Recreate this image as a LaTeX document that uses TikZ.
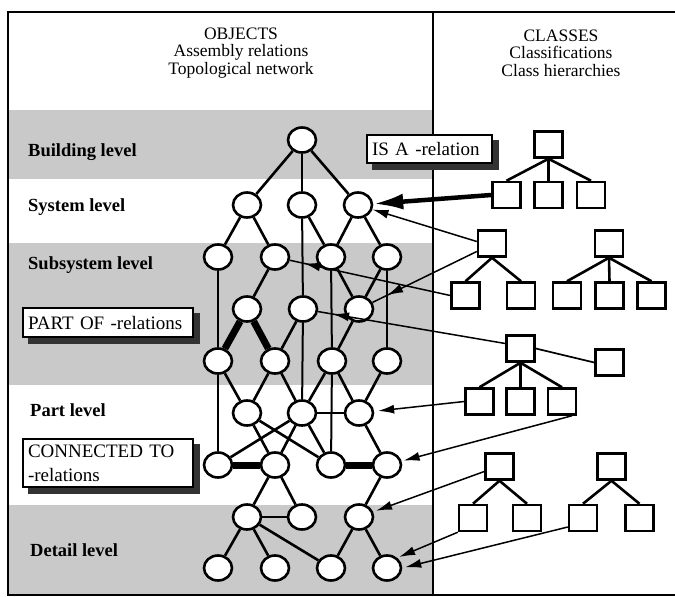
\documentclass[tikz,border=0pt]{standalone}
\usepackage{fontspec}
\setmainfont{Liberation Serif}
\usetikzlibrary{shapes.geometric,arrows.meta,decorations.markings,calc}

\begin{document}
\begin{tikzpicture}[x=1pt,y=-1pt,
  obj/.style={ellipse,draw,line width=2.6pt,fill=white,minimum width=28pt,minimum height=25pt,inner sep=0pt},
  cls/.style={rectangle,draw,line width=2.5pt,fill=white,minimum width=28pt,minimum height=26pt,inner sep=0pt},
  rel/.style={line width=2.6pt},
  vrel/.style={line width=2pt},
  strong/.style={line width=7pt},
  band/.style={fill=black!21,draw=none},
  frame/.style={line width=1.8pt},
  level/.style={anchor=west,inner sep=0pt,font=\fontsize{18.5}{20}\selectfont\bfseries},
  head/.style={align=center,inner sep=0pt,font=\fontsize{17.5}{17.5}\selectfont},
  tag/.style={draw,line width=1.4pt,fill=white,align=left,inner xsep=5pt,
    font=\fontsize{19}{24}\selectfont},
  shade/.style={fill=black!80,draw=none},
  isa/.style={line width=1.5pt,-{Latex[length=16pt,width=9pt]}},
  isastrong/.style={line width=4.5pt,-{Latex[length=30pt,width=16pt]}},
  midtip/.style={line width=1.5pt,postaction={decorate},
    decoration={markings,mark=at position #1 with {\arrow{Latex[length=16pt,width=9pt]}}}},
]
\useasboundingbox (0,0) rectangle (675,597);
\fill[white] (0,0) rectangle (675,597);

% shaded level bands of the object panel
\fill[band] (8,110) rectangle (433,179);
\fill[band] (8,243) rectangle (433,385);
\fill[band] (8,505) rectangle (433,595);

% frame and panel divider
\draw[frame] (675,12) -- (8,12) -- (8,595) -- (675,595);
\draw[frame] (433,12) -- (433,595);

% panel headings
\node[head] (objhead) at (241,53) {OBJECTS\\Assembly relations\\Topological network};
\node[head] (clshead) at (561,53) {CLASSES\\Classifications\\Class hierarchies};

% level names
\node[level] (lvB) at (28,152) {Building level};
\node[level] (lvS) at (28,207) {System level};
\node[level] (lvSub) at (28,265) {Subsystem level};
\node[level] (lvP) at (30,410) {Part level};
\node[level] (lvD) at (30,550) {Detail level};

% object network
\node[obj] (T)  at (302,140) {};
\node[obj] (S1) at (247,205) {};
\node[obj] (S2) at (302,205) {};
\node[obj] (S3) at (358,205) {};
\node[obj] (B1) at (218,257) {};
\node[obj] (B2) at (275,257) {};
\node[obj] (B3) at (331,257) {};
\node[obj] (B4) at (387,257) {};
\node[obj] (P1) at (247,309) {};
\node[obj] (P2) at (303,309) {};
\node[obj] (P3) at (359,309) {};
\node[obj] (Q1) at (218,361) {};
\node[obj] (Q2) at (275,361) {};
\node[obj] (Q3) at (332,361) {};
\node[obj] (Q4) at (387,361) {};
\node[obj] (R1) at (247,413) {};
\node[obj] (R2) at (302,413) {};
\node[obj] (R3) at (359,413) {};
\node[obj] (C1) at (218,465) {};
\node[obj] (C2) at (275,465) {};
\node[obj] (C3) at (331,465) {};
\node[obj] (C4) at (387,465) {};
\node[obj] (D1) at (247,517) {};
\node[obj] (D2) at (302,517) {};
\node[obj] (D3) at (359,517) {};
\node[obj] (E1) at (218,568) {};
\node[obj] (E2) at (275,568) {};
\node[obj] (E3) at (331,568) {};
\node[obj] (E4) at (387,568) {};

\draw[rel] (T) -- (S1);  \draw[vrel] (T) -- (S2);  \draw[rel] (T) -- (S3);
\draw[rel] (S1) -- (B1); \draw[rel] (S1) -- (B2);
\draw[rel] (S2) -- (B3); \draw[rel] (S3) -- (B3); \draw[rel] (S3) -- (B4);
\draw[vrel] (S2) -- (P2);
\draw[vrel] (B1) -- (Q1);
\draw[rel] (B2) -- (P1);
\draw[rel] (B3) -- (P3); \draw[rel] (B4) -- (P3);
\draw[vrel] (B3) -- (Q3);
\draw[vrel] (B4) -- (Q4);
\draw[strong] (P1) -- (Q1); \draw[strong] (P1) -- (Q2);
\draw[rel] (P2) -- (Q2);
\draw[vrel] (P2) -- (R2);
\draw[rel] (P3) -- (Q3);
\draw[rel] (Q1) -- (R1); \draw[rel] (Q2) -- (R1); \draw[rel] (Q2) -- (R2);
\draw[rel] (Q3) -- (R2); \draw[rel] (Q3) -- (R3); \draw[rel] (Q4) -- (R3);
\draw[vrel] (Q1) -- (C1); \draw[vrel] (Q3) -- (C3);
\draw[rel] (R2) -- (R3);
\draw[rel] (R1) -- (C2); \draw[rel] (R1) -- (C3);
\draw[rel] (R2) -- (C1); \draw[rel] (R2) -- (C2); \draw[rel] (R2) -- (C3);
\draw[rel] (R3) -- (C4);
\draw[strong] (C1) -- (C2); \draw[strong] (C3) -- (C4);
\draw[rel] (C2) -- (D1); \draw[rel] (C2) -- (D2);
\draw[rel] (D1) -- (D2);
\draw[rel] (C4) -- (D3);
\draw[rel] (D1) -- (E1); \draw[rel] (D1) -- (E2); \draw[rel] (D1) -- (E3);
\draw[rel] (D3) -- (E3); \draw[rel] (D3) -- (E4);

% class hierarchies
\node[cls] (ua)  at (548.5,144.5) {};
\node[cls] (ub1) at (506.5,195) {};
\node[cls] (ub2) at (548.5,195) {};
\node[cls] (ub3) at (591,195) {};
\node[cls] (ma)  at (492,243.5) {};
\node[cls] (mb1) at (465.5,295.5) {};
\node[cls] (mb2) at (521,295.5) {};
\node[cls] (na)  at (609,243.5) {};
\node[cls] (nb1) at (567,295.5) {};
\node[cls] (nb2) at (609.5,295.5) {};
\node[cls] (nb3) at (651.5,295.5) {};
\node[cls] (la)  at (520.5,348.5) {};
\node[cls] (lb1) at (479.5,401.5) {};
\node[cls] (lb2) at (520.5,401.5) {};
\node[cls] (lb3) at (562,401.5) {};
\node[cls] (lx)  at (609.5,362.5) {};
\node[cls] (ka)  at (499.5,466.5) {};
\node[cls] (kb1) at (473,518) {};
\node[cls] (kb2) at (527,518) {};
\node[cls] (ja)  at (611.5,466.5) {};
\node[cls] (jb1) at (583,518) {};
\node[cls] (jb2) at (639.5,518) {};

\foreach \r/\c in {ua/ub1,ua/ub2,ua/ub3,ma/mb1,ma/mb2,na/nb1,na/nb2,na/nb3,
                   la/lb1,la/lb2,la/lb3,ka/kb1,ka/kb2,ja/jb1,ja/jb2}
  \draw[rel] (\r.south) -- (\c.north);
\draw[line width=1.7pt] (la.east) -- (lx.west);

% IS A connectors from classes to objects
\draw[isastrong] (ub1.west) -- (S3);
\draw[isa] ([yshift=2pt]ma.west) -- (S3);
\draw[midtip=0.86] ([yshift=-8pt]ma.west) -- (P3);
\draw[midtip=0.91] (mb1.west) -- (B2);
\draw[midtip=0.92] ([yshift=5pt]la.west) -- (P2);
\draw[isa,shorten >=4pt] (lb1.west) -- (R3);
\draw[isa,shorten >=2pt] ([xshift=10pt]lb3.south) -- (C4);
\draw[isa,shorten >=3pt] ([yshift=-5pt]ka.west) -- (D3);
\draw[isa,shorten >=2pt] (kb1.south west) -- (E4.45);
\draw[isa,shorten >=3pt] ([yshift=-9pt]jb1.west) -- (E4.east);

% relation labels with their dark offset shadows
\node[tag,text width=115pt,minimum height=28pt] (isatag) at (429.5,149) {IS A -relation};
\node[tag,text width=160pt,minimum height=29pt] (parttag) at (108,322.5) {PART OF -relations};
\node[tag,text width=160pt,minimum height=48pt] (conntag) at (108,463) {CONNECTED TO\\-relations};
\foreach \t in {isatag,parttag,conntag}{
  \fill[shade] ($(\t.north east)+(0.7,6)$) rectangle ($(\t.south east)+(6.5,6.5)$);
  \fill[shade] ($(\t.south west)+(6,0.7)$) rectangle ($(\t.south east)+(6.5,6.5)$);
}
\end{tikzpicture}
\end{document}
